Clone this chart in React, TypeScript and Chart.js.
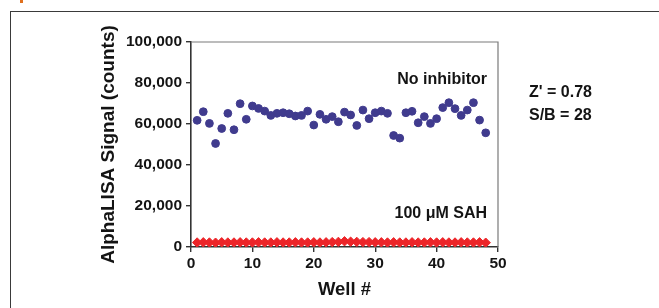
import React, { useEffect, useRef } from "react";
import { Chart, registerables } from "chart.js";

Chart.register(...registerables);

const wells: number[] = Array.from({ length: 48 }, (_, i) => i + 1);

const noInhibitor: number[] = [
  61800, 66000, 60300, 50500, 57800, 65200, 57200, 69900, 62300, 68800,
  67600, 66300, 64200, 65200, 65500, 65000, 63900, 64200, 66300, 59500,
  64700, 62300, 63600, 61100, 65800, 64400, 59300, 66800, 62600, 65500,
  66300, 65200, 54400, 53100, 65500, 66200, 60600, 63600, 60300, 62600,
  68000, 70400, 67500, 64200, 66800, 70400, 61900, 55700,
];

const sah100: number[] = [
  2200, 2300, 2200, 2100, 2300, 2200, 2200, 2300, 2200, 2200,
  2300, 2200, 2200, 2300, 2200, 2200, 2300, 2200, 2200, 2300,
  2200, 2300, 2400, 2500, 2800, 2600, 2500, 2400, 2400, 2300,
  2300, 2200, 2300, 2200, 2200, 2300, 2200, 2200, 2300, 2200,
  2300, 2200, 2200, 2300, 2200, 2200, 2300, 2100,
];

const xTicks: number[] = [0, 10, 20, 30, 40, 50];
const yTicks: number[] = [0, 20000, 40000, 60000, 80000, 100000];

const xTitle = "Well #";
const yTitle = "AlphaLISA Signal (counts)";
const seriesLabels: string[] = ["No inhibitor", "100 μM SAH"];
const stats: string[] = ["Z' = 0.78", "S/B = 28"];

const FONT = "'Liberation Sans', Arial, Helvetica, sans-serif";

const annotationPlugin = {
  id: "annot",
  afterDraw(chart: any) {
    const { ctx, chartArea } = chart;
    const { left, right, top, bottom } = chartArea;
    ctx.save();
    // top and right border of plot box
    ctx.strokeStyle = "#7a7a7a";
    ctx.lineWidth = 1.2;
    ctx.beginPath();
    ctx.moveTo(left, top);
    ctx.lineTo(right, top);
    ctx.lineTo(right, bottom);
    ctx.stroke();

    ctx.fillStyle = "#141414";
    ctx.font = `bold 16px ${FONT}`;
    ctx.textBaseline = "middle";
    ctx.textAlign = "right";
    ctx.fillText(seriesLabels[0], right - 11, top + 38);
    ctx.fillText(seriesLabels[1], right - 11, top + 172);
    ctx.textAlign = "left";
    ctx.fillText(stats[0], right + 31, top + 51);
    ctx.fillText(stats[1], right + 31, top + 74);
    ctx.restore();
  },
};

export default function App() {
  const ref = useRef<HTMLCanvasElement>(null);

  useEffect(() => {
    Chart.defaults.font.family = FONT;
    const chart = new Chart(ref.current as HTMLCanvasElement, {
      type: "scatter",
      data: {
        datasets: [
          {
            label: seriesLabels[0],
            data: wells.map((w, i) => ({ x: w, y: noInhibitor[i] })),
            backgroundColor: "#403b8e",
            borderColor: "#403b8e",
            pointRadius: 3.9,
            pointStyle: "circle",
          },
          {
            label: seriesLabels[1],
            data: wells.map((w, i) => ({ x: w, y: sah100[i] })),
            backgroundColor: "#ec2529",
            borderColor: "#ec2529",
            pointRadius: 4.7,
            pointStyle: "rectRot",
          },
        ],
      },
      options: {
        animation: false,
        responsive: false,
        maintainAspectRatio: false,
        layout: { padding: { left: 97, right: 161, top: 42, bottom: 0 } },
        plugins: {
          legend: { display: false },
          tooltip: { enabled: false },
        },
        scales: {
          x: {
            type: "linear",
            min: 0,
            max: 50,
            afterBuildTicks: (s: any) => {
              s.ticks = xTicks.map((v) => ({ value: v }));
            },
            afterFit: (s: any) => {
              s.height = 61;
            },
            ticks: {
              color: "#141414",
              font: { size: 15.5, weight: "bold" },
              padding: 2,
              maxRotation: 0,
            },
            grid: {
              display: true,
              drawOnChartArea: false,
              drawTicks: true,
              tickLength: 5,
              color: "#333",
              lineWidth: 1.4,
            },
            border: { display: true, color: "#333", width: 1.6 },
            title: {
              display: true,
              text: xTitle,
              color: "#141414",
              font: { size: 18.5, weight: "bold" },
              padding: { top: 0, bottom: 7 },
            },
          },
          y: {
            type: "linear",
            min: 0,
            max: 100000,
            afterBuildTicks: (s: any) => {
              s.ticks = yTicks.map((v) => ({ value: v }));
            },
            afterFit: (s: any) => {
              s.width = 94;
            },
            ticks: {
              color: "#141414",
              font: { size: 15.5, weight: "bold" },
              padding: 4,
              callback: (v: any) => Number(v).toLocaleString("en-US"),
            },
            grid: {
              display: true,
              drawOnChartArea: false,
              drawTicks: true,
              tickLength: 5,
              color: "#333",
              lineWidth: 1.4,
            },
            border: { display: true, color: "#333", width: 1.6 },
            title: {
              display: true,
              text: yTitle,
              color: "#141414",
              font: { size: 19, weight: "bold" },
              padding: { top: 0, bottom: 0 },
            },
          },
        },
      } as any,
      plugins: [annotationPlugin],
    });
    return () => chart.destroy();
  }, []);

  return (
    <div style={{ position: "absolute", left: 0, top: 0, width: 659, height: 308, overflow: "hidden", background: "#fff" }}>
      <div style={{ position: "absolute", left: 20, top: 0, width: 3, height: 3, background: "#e0701e" }} />
      <div
        style={{
          position: "absolute",
          left: 10,
          top: 11,
          width: 660,
          height: 310,
          borderLeft: "1.5px solid #3a3a3a",
          borderTop: "1.5px solid #3a3a3a",
        }}
      />
      <canvas ref={ref} width={659} height={308} style={{ position: "absolute", left: 0, top: 0, width: 659, height: 308 }} />
    </div>
  );
}
